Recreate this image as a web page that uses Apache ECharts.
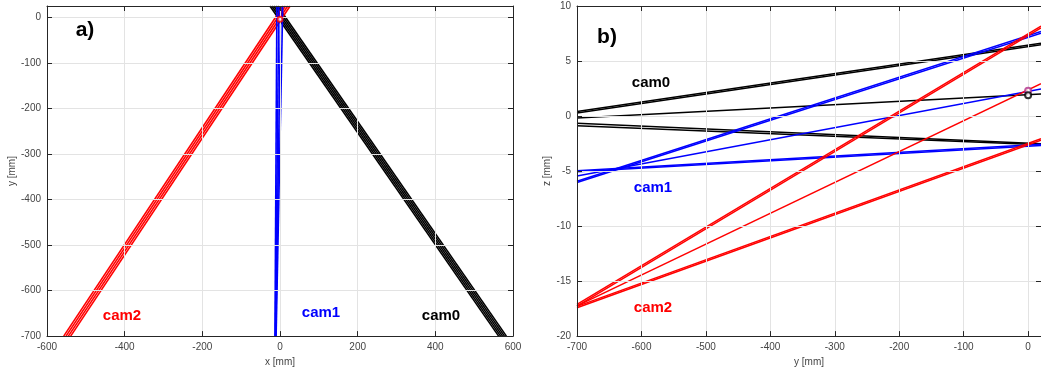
<!DOCTYPE html>
<html>
<head>
<meta charset="utf-8">
<script src="https://cdn.jsdelivr.net/npm/echarts@6/dist/echarts.min.js"></script>
<style>
html,body{margin:0;padding:0;background:#fff;}
#c{width:1041px;height:372px;}
</style>
</head>
<body>
<div id="c"></div>
<script>
// ---------- data (panel a: x-y plane) ----------
const leftYEnds = [-700, 25];              // y at bottom / top ends of each ray
const leftCam0Bottom = [563, 568, 573, 578, 583];
const leftCam0Top    = [-26, -21, -16, -11, -6];
const leftCam1Bottom = [-13, -12, -11, -10];
const leftCam1Top    = [-8, -3, 2, 7];
const leftCam2Bottom = [-557, -551, -545, -539];
const leftCam2Top    = [8, 14, 20, 26];
const leftMarkers = [[0, -4]];

// ---------- data (panel b: y-z plane) ----------
const rightXEnds = [-700, 20];             // y at left / right ends of each ray
const rightCam0Start = [0.42, 0.28, -0.18, -0.65, -0.88];
const rightCam0End   = [6.62, 6.48, 2.0, -2.52, -2.62];
const rightCam1Start = [-5.92, -6.04, -5.46, -4.98, -5.07];
const rightCam1End   = [7.68, 7.52, 2.45, -2.57, -2.68];
const rightCam2Start = [-17.12, -17.28, -17.25, -17.3, -17.42];
const rightCam2End   = [8.18, 8.02, 2.95, -2.06, -2.2];
const rightMarkersRB = [[0, 2.3]];
const rightMarkersK  = [[0, 1.9]];

const leftXTicks = {min: -600, max: 600, interval: 200};
const leftYTicks = {min: -700, max: 25, interval: 100};
const rightXTicks = {min: -700, max: 20, interval: 100};
const rightYTicks = {min: -20, max: 10, interval: 5};

// ---------- styling ----------
const FONT = 'Liberation Sans, Arial, Helvetica, sans-serif';
const AX = '#262626';
const GRIDC = '#e3e3e3';
const LBL = '#444';

function axis(gridIndex, ticks, opts) {
  const main = opts.main;
  const a = {
    type: 'value', gridIndex: gridIndex,
    min: ticks.min, max: ticks.max, interval: ticks.interval,
    position: opts.position,
    axisLine: {show: true, onZero: false, lineStyle: {color: AX, width: 1}},
    axisTick: {show: true, inside: true, length: 5, lineStyle: {color: AX, width: 1}},
    axisLabel: {show: main, color: LBL, fontSize: 10, fontFamily: FONT, margin: 6,
                showMaxLabel: opts.hideMax ? false : true, showMinLabel: true},
    splitLine: {show: main, lineStyle: {color: GRIDC, width: 1}},
    z: 3
  };
  if (main && opts.name) {
    a.name = opts.name;
    a.nameLocation = 'middle';
    a.nameGap = opts.nameGap;
    a.nameTextStyle = {color: LBL, fontSize: 10, fontFamily: FONT};
  }
  return a;
}

const xAxes = [
  axis(0, leftXTicks, {main: true, position: 'bottom', name: 'x [mm]', nameGap: 16}),
  axis(0, leftXTicks, {main: false, position: 'top'}),
  axis(1, rightXTicks, {main: true, position: 'bottom', name: 'y [mm]', nameGap: 16, hideMax: true}),
  axis(1, rightXTicks, {main: false, position: 'top'})
];
const yAxes = [
  axis(0, leftYTicks, {main: true, position: 'left', name: 'y [mm]', nameGap: 29, hideMax: true}),
  axis(0, leftYTicks, {main: false, position: 'right'}),
  axis(1, rightYTicks, {main: true, position: 'left', name: 'z [mm]', nameGap: 25}),
  axis(1, rightYTicks, {main: false, position: 'right'})
];

const series = [];
function addLeft(bottoms, tops, color) {
  for (let i = 0; i < bottoms.length; i++) {
    series.push({
      type: 'line', xAxisIndex: 0, yAxisIndex: 0,
      data: [[bottoms[i], leftYEnds[0]], [tops[i], leftYEnds[1]]],
      showSymbol: false, silent: true, clip: true, animation: false,
      lineStyle: {color: color, width: 1.6}, z: 2
    });
  }
}
function addRight(starts, ends, color) {
  for (let i = 0; i < starts.length; i++) {
    series.push({
      type: 'line', xAxisIndex: 2, yAxisIndex: 2,
      data: [[rightXEnds[0], starts[i]], [rightXEnds[1], ends[i]]],
      showSymbol: false, silent: true, clip: true, animation: false,
      lineStyle: {color: color, width: 1.5}, z: 2
    });
  }
}
addLeft(leftCam0Bottom, leftCam0Top, '#000000');
addLeft(leftCam2Bottom, leftCam2Top, '#ff0000');
addLeft(leftCam1Bottom, leftCam1Top, '#0000ff');
addRight(rightCam0Start, rightCam0End, '#000000');
addRight(rightCam1Start, rightCam1End, '#0000ff');
addRight(rightCam2Start, rightCam2End, '#ff0000');

series.push({type: 'scatter', xAxisIndex: 0, yAxisIndex: 0, data: leftMarkers,
  symbol: 'emptyCircle', symbolSize: 5, itemStyle: {color: '#ff0000', borderWidth: 1}, animation: false, z: 4});
series.push({type: 'scatter', xAxisIndex: 2, yAxisIndex: 2, data: rightMarkersRB,
  symbol: 'emptyCircle', symbolSize: 6, itemStyle: {color: '#b0308a', borderWidth: 1}, animation: false, z: 4});
series.push({type: 'scatter', xAxisIndex: 2, yAxisIndex: 2, data: rightMarkersK,
  symbol: 'emptyCircle', symbolSize: 6, itemStyle: {color: '#000000', borderWidth: 1}, animation: false, z: 4});

function txt(x, y, s, color, size) {
  return {type: 'text', x: x, y: y, z: 10,
    style: {text: s, fill: color, font: 'bold ' + size + 'px ' + FONT, textAlign: 'center', textVerticalAlign: 'middle'}};
}

const option = {
  animation: false,
  backgroundColor: '#ffffff',
  grid: [
    {left: 47, top: 6, width: 466, height: 334.5, containLabel: false},
    {left: 577, top: 6, width: 464.5, height: 334.5, containLabel: false}
  ],
  xAxis: xAxes,
  yAxis: yAxes,
  series: series,
  graphic: [
    txt(85, 30, 'a)', '#000', 21),
    txt(607, 37, 'b)', '#000', 21),
    txt(122, 316, 'cam2', '#ff0000', 15),
    txt(321, 313, 'cam1', '#0000ff', 15),
    txt(441, 316, 'cam0', '#000000', 15),
    txt(651, 83, 'cam0', '#000000', 15),
    txt(653, 188, 'cam1', '#0000ff', 15),
    txt(653, 308, 'cam2', '#ff0000', 15)
  ]
};
const chart = echarts.init(document.getElementById('c'), null, {renderer: 'canvas'});
chart.setOption(option);
</script>
</body>
</html>
